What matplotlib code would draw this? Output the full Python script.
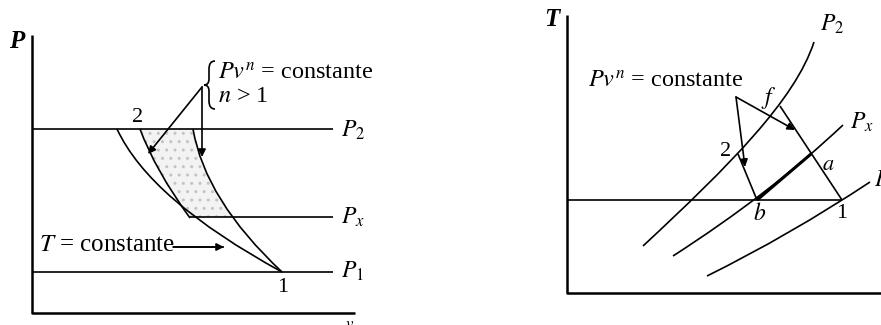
import matplotlib.pyplot as plt
from matplotlib.path import Path
from matplotlib.patches import PathPatch, Rectangle

plt.rcParams['font.family'] = ['Liberation Serif', 'DejaVu Serif']
plt.rcParams['mathtext.fontset'] = 'stix'

# diagram geometry, in pixel units of the 881x325 picture (y grows downwards)
# left panel: P-v diagram
left_axis = [(32, 35), (32, 313), (355, 313)]
p_lines_left = {'$P_2$': (32, 129), '$P_x$': (190, 217), '$P_1$': (32, 272)}
label_y_left = [130, 217, 271]
p_line_end = 333
isotherm = [(117, 129), (150, 200), (282, 272)]
poly_2x = [(140, 129), (155, 170), (190, 218)]
poly_21 = [(193, 129), (205, 200), (282, 272)]
brace_tip = (202, 87)
arrow_tips_left = [(148, 154), (202, 157)]
iso_arrow = [(173, 247), (224, 247)]
brace = [(215, 61), (209, 61), (209, 69), (209, 79), (209, 85), (204, 85),
         (209, 85), (209, 91), (209, 101), (209, 109), (215, 109)]

# right panel: T-s diagram
right_axis = [(567, 15), (567, 293), (881, 293)]
t1_line = [(567, 200), (842, 200)]
isobar_p2 = [(643, 246), (730, 165), (795, 100), (814, 42)]
isobar_px = [(673, 256), (771, 193), (843, 125)]
isobar_p1 = [(707, 276), (790, 235), (870, 182)]
line_2b = [(738, 154), (757, 200)]
line_f1 = [(780, 106), (842, 200)]
bold_px = [(757, 200), (811, 154)]
pv_tip = (736, 97)
arrow_tips_right = [(745, 167), (795, 130)]

fig = plt.figure(figsize=(8.81, 3.25), dpi=100)
ax = fig.add_axes([0, 0, 1, 1])
ax.set_xlim(0, 881)
ax.set_ylim(325, 0)
ax.axis('off')

LW = 1.2


def curve(pts, lw=LW):
    kind = Path.CURVE3 if len(pts) == 3 else Path.CURVE4
    path = Path(pts, [Path.MOVETO] + [kind] * (len(pts) - 1))
    ax.add_patch(PathPatch(path, fc='none', ec='black', lw=lw))


def poly(pts, lw=LW):
    xs, ys = zip(*pts)
    ax.plot(xs, ys, color='black', lw=lw, solid_capstyle='butt')


def arrow(start, tip):
    ax.annotate('', xy=tip, xytext=start,
                arrowprops=dict(arrowstyle='-|>', lw=LW, color='black',
                                mutation_scale=11, shrinkA=0, shrinkB=0))


# ---- left panel ----
# shaded (stippled) area between the two compressions, above P_x
region = Path([poly_2x[0], poly_2x[1], poly_2x[2], poly_21[2], poly_21[1], poly_21[0], poly_2x[0]],
              [Path.MOVETO, Path.CURVE3, Path.CURVE3, Path.LINETO, Path.CURVE3, Path.CURVE3, Path.CLOSEPOLY])
shade = PathPatch(region, fc='#f3f3f3', ec='#c4c4c4', hatch='..', lw=0)
ax.add_patch(shade)
shade.set_clip_path(Rectangle((0, 129), 881, 217 - 129, transform=ax.transData))

poly(left_axis, lw=1.8)
for (lab, (x0, y0)), ly in zip(p_lines_left.items(), label_y_left):
    poly([(x0, y0), (p_line_end, y0)])
    ax.text(p_line_end + 8, ly, lab, fontsize=17, va='center', ha='left')
curve(isotherm)
curve(poly_2x)
curve(poly_21)
for tip in arrow_tips_left:
    arrow(brace_tip, tip)
poly([iso_arrow[0], iso_arrow[1]])
arrow(iso_arrow[0], iso_arrow[1])

brace_codes = [Path.MOVETO, Path.CURVE3, Path.CURVE3, Path.LINETO, Path.CURVE3, Path.CURVE3,
               Path.CURVE3, Path.CURVE3, Path.LINETO, Path.CURVE3, Path.CURVE3]
ax.add_patch(PathPatch(Path(brace, brace_codes), fc='none', ec='black', lw=1.2))

ax.text(17, 42, 'P', fontsize=18, style='italic', fontweight='bold', ha='center', va='center')
ax.text(138, 118, '2', fontsize=16, ha='center', va='center')
ax.text(283, 288, '1', fontsize=16, ha='center', va='center')
ax.text(350, 317, r'$v$', fontsize=12, ha='center', va='top')
ax.text(218, 74, r'$Pv^n$ = constante', fontsize=17.5, ha='left', va='center')
ax.text(218, 96, r'$n$ > 1', fontsize=17.5, ha='left', va='center')
ax.text(39, 245, r'$T$ = constante', fontsize=18, ha='left', va='center')

# ---- right panel ----
poly(right_axis, lw=1.8)
poly(t1_line)
curve(isobar_p2)
curve(isobar_px)
curve(isobar_p1)
poly(line_2b)
poly(line_f1)
poly(bold_px, lw=2.2)
for tip in arrow_tips_right:
    arrow(pv_tip, tip)

ax.text(552, 20, 'T', fontsize=18, style='italic', fontweight='bold', ha='center', va='center')
ax.text(588, 82, r'$Pv^n$ = constante', fontsize=17.5, ha='left', va='center')
ax.text(820, 24, '$P_2$', fontsize=17, ha='left', va='center')
ax.text(850, 122, '$P_x$', fontsize=17, ha='left', va='center')
ax.text(874, 180, '$P_1$', fontsize=17, ha='left', va='center')
ax.text(726, 151, '2', fontsize=16, ha='center', va='center')
ax.text(769, 98, '$f$', fontsize=17, ha='center', va='center')
ax.text(828, 165, '$a$', fontsize=16, ha='center', va='center')
ax.text(760, 214, '$b$', fontsize=17, ha='center', va='center')
ax.text(842, 214, '1', fontsize=16, ha='center', va='center')

fig.savefig('out.png', dpi=100)
